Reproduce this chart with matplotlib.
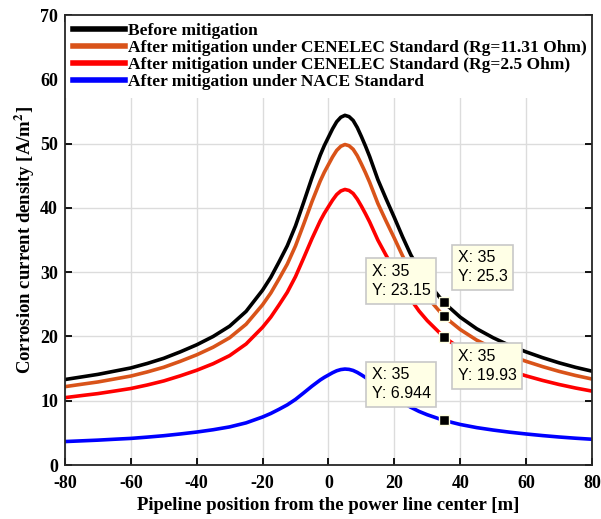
# Corrosion current density along the pipeline

import matplotlib.pyplot as plt

plt.rcParams['font.family'] = 'Liberation Serif'
plt.rcParams['font.weight'] = 'bold'
plt.rcParams['mathtext.fontset'] = 'stix'
plt.rcParams['axes.unicode_minus'] = False

# Data #

pos = [-80, -75, -70, -65, -60, -55, -50, -45, -40, -35, -30, -25, -20,
       -17.5, -15, -12.5, -10, -7.5, -5, -2.5,
       -1.25, 0, 1.25, 2.5, 3.75, 5, 6.25, 7.5, 8.75, 10, 11.25, 12.5,
       15, 17.5, 20, 22.5, 25, 27.5, 30,
       35, 40, 45, 50, 55, 60, 65, 70, 75, 80]

before = [13.3, 13.7, 14.1, 14.6, 15.1, 15.8, 16.6, 17.6, 18.7, 20.0, 21.6, 23.9, 27.2,
          29.2, 31.6, 34.1, 37.2, 40.9, 44.7, 48.2,
          49.7, 51.0, 52.3, 53.4, 54.1, 54.4, 54.2, 53.6, 52.5, 51.1, 49.6, 48.0,
          44.4, 41.4, 38.5, 35.5, 32.7, 30.4, 28.5,
          25.3, 23.0, 21.2, 19.8, 18.6, 17.6, 16.7, 15.9, 15.2, 14.6]

cenelec_11 = [12.19, 12.56, 12.92, 13.38, 13.84, 14.48, 15.21, 16.13, 17.14, 18.33, 19.80, 21.90, 24.93,
              26.76, 28.96, 31.25, 34.09, 37.49, 40.97, 44.18,
              45.55, 46.74, 47.93, 48.94, 49.58, 49.86, 49.67, 49.12, 48.12, 46.83, 45.46, 43.99,
              40.69, 37.94, 35.29, 32.54, 29.97, 27.86, 26.12,
              23.15, 21.08, 19.43, 18.15, 17.05, 16.13, 15.31, 14.57, 13.93, 13.38]

cenelec_25 = [10.48, 10.80, 11.11, 11.50, 11.90, 12.45, 13.08, 13.87, 14.74, 15.76, 17.02, 18.83, 21.43,
              23.01, 24.90, 26.87, 29.31, 32.23, 35.22, 37.98,
              39.16, 40.19, 41.21, 42.08, 42.63, 42.87, 42.71, 42.24, 41.37, 40.27, 39.08, 37.82,
              34.99, 32.62, 30.34, 27.97, 25.77, 23.96, 22.46,
              19.93, 18.12, 16.71, 15.60, 14.66, 13.87, 13.16, 12.53, 11.98, 11.50]

nace = [3.65, 3.76, 3.87, 4.01, 4.14, 4.34, 4.56, 4.83, 5.13, 5.49, 5.93, 6.56, 7.47,
        8.02, 8.67, 9.36, 10.21, 11.23, 12.27, 13.23,
        13.64, 14.00, 14.36, 14.66, 14.85, 14.93, 14.88, 14.71, 14.41, 14.03, 13.62, 13.18,
        12.19, 11.36, 10.57, 9.74, 8.98, 8.34, 7.82,
        6.944, 6.31, 5.82, 5.44, 5.11, 4.83, 4.58, 4.36, 4.17, 4.01]

labels = ["Before mitigation",
          "After mitigation under CENELEC Standard (Rg=11.31 Ohm)",
          "After mitigation under CENELEC Standard (Rg=2.5 Ohm)",
          "After mitigation under NACE Standard"]

# Data tips at x = 35 #
tip_x = 35
tip_y = [25.3, 23.15, 19.93, 6.944]
tip_txt = ["25.3", "23.15", "19.93", "6.944"]

fig = plt.figure(figsize=(6.01, 5.19), dpi=100)
ax = fig.add_axes([0.108, 0.104, 0.877, 0.867])

for ys, c, lab in zip([before, cenelec_11, cenelec_25, nace],
                      ['black', '#D95319', '#FF0000', '#0000FF'], labels):
    ax.plot(pos, ys, color=c, lw=2.6, label=lab, solid_joinstyle='round')

ax.set_xlim(-80, 80)
ax.set_ylim(0, 70)
ax.set_xticks(range(-80, 81, 20))
ax.set_yticks(range(0, 71, 10))
ax.grid(True, color='#DCDCDC', lw=1)
ax.set_axisbelow(True)
ax.tick_params(direction='in', top=True, right=True, labelsize=13, length=5, width=1.3)
ax.tick_params(axis='x', pad=7)
ax.tick_params(axis='y', pad=5)
for s in ax.spines.values():
    s.set_linewidth(1.3)
    s.set_color('#262626')

ax.set_xlabel("Pipeline position from the power line center [m]", fontsize=13.5, fontweight='bold', labelpad=4)
ax.set_ylabel(r"Corrosion current density [A/m$^{\mathbf{2}}$]", fontsize=13.5, fontweight='bold', labelpad=2)

leg = ax.legend(loc='upper left', bbox_to_anchor=(0, 1), borderaxespad=0, fontsize=12.5,
                handlelength=3.0, handletextpad=0.2, labelspacing=0.05, borderpad=0.45,
                fancybox=False, framealpha=1, edgecolor='none')
leg.set_zorder(2)
for h in leg.get_lines():
    h.set_linewidth(4)

# data tip boxes: (dx, dy, ha, va) offsets in pixels #
offs = [(14, 18, 'left', 'bottom'), (-13, 18, 'right', 'bottom'),
        (14, -12, 'left', 'top'), (-13, 19, 'right', 'bottom')]
for yv, t, (dx, dy, ha, va) in zip(tip_y, tip_txt, offs):
    ax.plot(tip_x, yv, 's', color='black', mec='#FFFFE1', mew=1, ms=7, zorder=5)
    ax.annotate("X: 35\nY: " + t, (tip_x, yv), xytext=(dx, dy), textcoords='offset pixels',
                ha=ha, va=va, multialignment='left', fontsize=11.5, family='Liberation Sans',
                fontweight='normal', linespacing=1.35,
                bbox=dict(boxstyle='square,pad=0.35', fc='#FFFFE6', ec='#C8C8C8', lw=1.2), zorder=6)

plt.savefig('out.png', dpi=100)
